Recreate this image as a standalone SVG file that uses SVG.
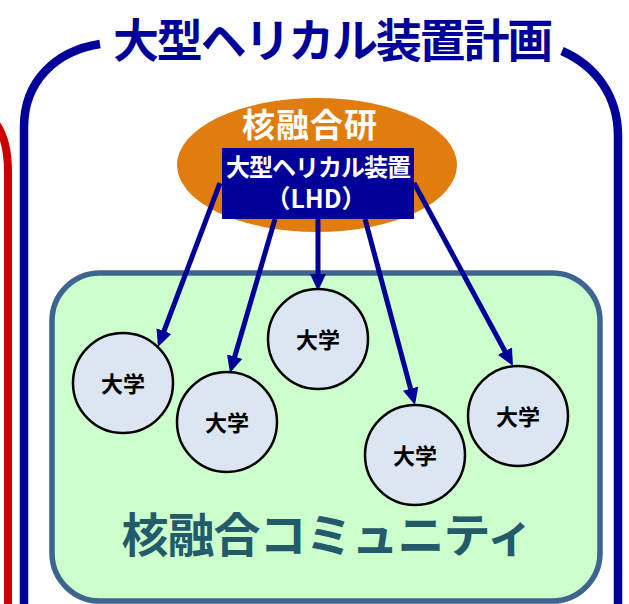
<svg xmlns="http://www.w3.org/2000/svg" width="629" height="604" viewBox="0 0 629 604">
<style>
.jp{font-family:"Noto Sans CJK JP","Noto Sans CJK SC",sans-serif;font-weight:bold;text-anchor:middle}
.frame{fill:none;stroke:#000099;stroke-width:8.5}
.uni{fill:#DCE6F2;stroke:#000;stroke-width:2.5}
.uni-t{font-size:22px;fill:#000}
.conn{stroke:#000099;stroke-width:5;fill:none;marker-end:url(#ah)}
</style>
<defs>
<marker id="ah" viewBox="0 0 17 16" markerUnits="userSpaceOnUse" markerWidth="17" markerHeight="16" refX="9" refY="8" orient="auto">
<path d="M0,0 L17,8 L0,16 z" fill="#000099"/>
</marker>
</defs>
<rect width="629" height="604" fill="#fff"/>
<g id="red-frame">
<path d="M-40,104 C-6,108 8,132 8,172 L8,610" fill="none" stroke="#CC0000" stroke-width="8"/>
</g>
<g id="plan-frame">
<path class="frame" d="M100,44 C55,51 24,82 24,127 L24,610"/>
<path class="frame" d="M562,51 C596,66 618,96 618,136 L618,610"/>
<text class="jp" x="332" y="57" font-size="46" letter-spacing="-2.2" fill="#000099">大型ヘリカル装置計画</text>
</g>
<g id="community">
<rect x="52" y="273" width="548" height="328" rx="48" ry="48" fill="#CCFFCC" stroke="#3D6590" stroke-width="5.5"/>
<text class="jp" x="327" y="552" font-size="47" letter-spacing="-1" fill="#245B6B">核融合コミュニティ</text>
</g>
<g id="nifs">
<ellipse cx="317" cy="165" rx="140" ry="67" fill="#E17D0F"/>
<text class="jp" x="310" y="137" font-size="33" letter-spacing="1" fill="#fff">核融合研</text>
</g>
<g id="lhd">
<rect x="222" y="148" width="192" height="71" fill="#000099"/>
<text class="jp" x="318" y="176" font-size="24" letter-spacing="-1" fill="#fff">大型ヘリカル装置</text>
<text class="jp" x="316" y="208" font-size="25" font-weight="normal" fill="#fff">（LHD）</text>
</g>
<g id="connectors">
<line class="conn" x1="220" y1="183" x2="160.8" y2="339.5"/>
<line class="conn" x1="275" y1="219" x2="232.2" y2="365.3"/>
<line class="conn" x1="318" y1="219" x2="318" y2="283"/>
<line class="conn" x1="365" y1="219" x2="412.9" y2="397.3"/>
<line class="conn" x1="414" y1="183" x2="509.2" y2="359"/>
</g>
<g id="univ1"><ellipse class="uni" cx="123" cy="383" rx="50" ry="50"/><text class="jp uni-t" x="123" y="392">大学</text></g>
<g id="univ2"><ellipse class="uni" cx="227" cy="422" rx="50" ry="50"/><text class="jp uni-t" x="227" y="431">大学</text></g>
<g id="univ3"><ellipse class="uni" cx="318" cy="339" rx="50" ry="50"/><text class="jp uni-t" x="318" y="348">大学</text></g>
<g id="univ4"><ellipse class="uni" cx="415" cy="455" rx="50" ry="50"/><text class="jp uni-t" x="415" y="464">大学</text></g>
<g id="univ5"><ellipse class="uni" cx="518" cy="416" rx="50" ry="50"/><text class="jp uni-t" x="518" y="425">大学</text></g>
</svg>
